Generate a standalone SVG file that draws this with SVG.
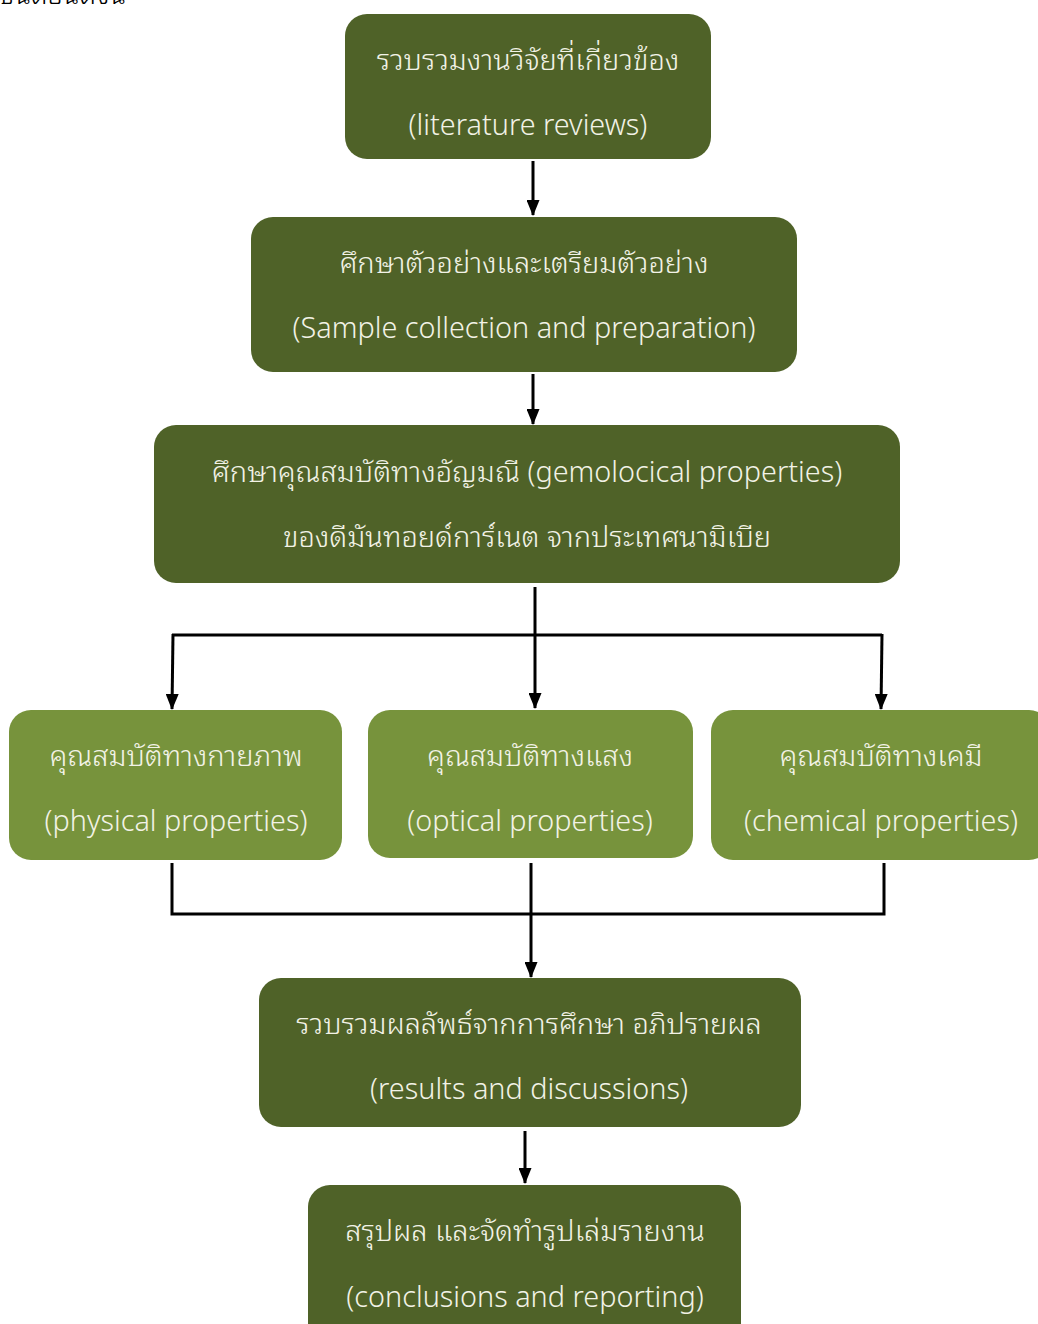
<svg xmlns="http://www.w3.org/2000/svg" width="1038" height="1324" viewBox="0 0 1038 1324">
<defs>
<style>
.dark{fill:#4f6228;}
.light{fill:#77933c;}
.t{fill:#f2f2e6;font-family:"Noto Sans","Noto Sans Thai Looped","Noto Sans Thai","Open Sans",sans-serif;font-size:29px;text-anchor:middle;font-weight:300;}
.e{font-size:28.8px;}
.c{stroke:#000;stroke-width:3;fill:none;}
</style>
<marker id="ah" markerWidth="16" markerHeight="13" refX="15" refY="6.5" orient="auto" markerUnits="userSpaceOnUse" viewBox="0 0 16 13">
<path d="M0,0 L16,6.5 L0,13 Z" fill="#000"/>
</marker>
</defs>
<rect width="1038" height="1324" fill="#fff"/>
<text x="0" y="4" style="font-family:'Noto Sans','Noto Sans Thai Looped',sans-serif;font-size:27px;fill:#000;font-weight:300;">ขั้นตอนดังนี้</text>
<g id="connectors">
<line class="c" x1="533" y1="161" x2="533" y2="215" marker-end="url(#ah)"/>
<line class="c" x1="533" y1="374" x2="533" y2="424" marker-end="url(#ah)"/>
<line class="c" x1="535" y1="587" x2="535" y2="708" marker-end="url(#ah)"/>
<polyline class="c" points="172,635 882,635"/>
<line class="c" x1="173" y1="634" x2="172" y2="709" marker-end="url(#ah)"/>
<line class="c" x1="882" y1="634" x2="881" y2="709" marker-end="url(#ah)"/>
<polyline class="c" points="172,863 172,914 884,914 884,863"/>
<line class="c" x1="531" y1="863" x2="531" y2="977" marker-end="url(#ah)"/>
<line class="c" x1="525" y1="1131" x2="525" y2="1183" marker-end="url(#ah)"/>
</g>
<g id="n1">
<rect class="dark" x="345" y="14" width="366" height="145" rx="22"/>
<text class="t" x="528" y="70">รวบรวมงานวิจัยที่เกี่ยวข้อง</text>
<text class="t e" x="528" y="135">(literature reviews)</text>
</g>
<g id="n2">
<rect class="dark" x="251" y="217" width="546" height="155" rx="22"/>
<text class="t" x="524" y="273">ศึกษาตัวอย่างและเตรียมตัวอย่าง</text>
<text class="t e" x="524" y="338">(Sample collection and preparation)</text>
</g>
<g id="n3">
<rect class="dark" x="154" y="425" width="746" height="158" rx="22"/>
<text class="t" x="527" y="482">ศึกษาคุณสมบัติทางอัญมณี <tspan class="e">(gemolocical properties)</tspan></text>
<text class="t" x="527" y="547">ของดีมันทอยด์การ์เนต จากประเทศนามิเบีย</text>
</g>
<g id="n4">
<rect class="light" x="9" y="710" width="333" height="150" rx="22"/>
<text class="t" x="176" y="766">คุณสมบัติทางกายภาพ</text>
<text class="t e" x="176" y="831">(physical properties)</text>
</g>
<g id="n5">
<rect class="light" x="368" y="710" width="325" height="148" rx="22"/>
<text class="t" x="530" y="766">คุณสมบัติทางแสง</text>
<text class="t e" x="530" y="831">(optical properties)</text>
</g>
<g id="n6">
<rect class="light" x="711" y="710" width="340" height="150" rx="22"/>
<text class="t" x="881" y="766">คุณสมบัติทางเคมี</text>
<text class="t e" x="881" y="831">(chemical properties)</text>
</g>
<g id="n7">
<rect class="dark" x="259" y="978" width="542" height="149" rx="22"/>
<text class="t" x="529" y="1034">รวบรวมผลลัพธ์จากการศึกษา อภิปรายผล</text>
<text class="t e" x="529" y="1099">(results and discussions)</text>
</g>
<g id="n8">
<rect class="dark" x="308" y="1185" width="433" height="160" rx="22"/>
<text class="t" x="525" y="1241">สรุปผล และจัดทำรูปเล่มรายงาน</text>
<text class="t e" x="525" y="1307">(conclusions and reporting)</text>
</g>
</svg>
